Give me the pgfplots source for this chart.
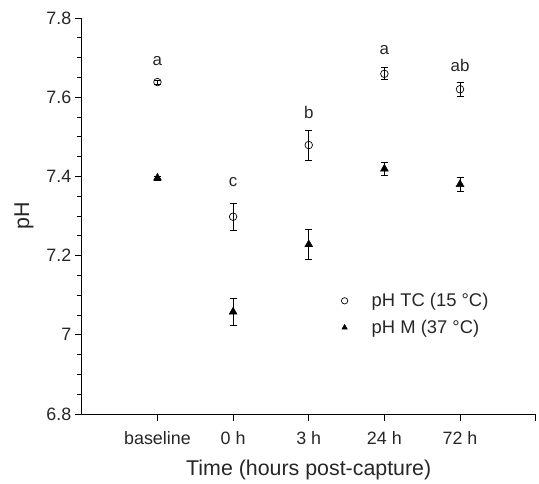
\documentclass[border=0pt]{standalone}
\usepackage{fontspec}
\setmainfont{Liberation Sans}
\usepackage{pgfplots}
\usepackage{pgfplotstable}
\pgfplotsset{compat=1.18}
\pgfplotstableread{
x y e
1 7.638 0.005
2 7.298 0.034
3 7.479 0.038
4 7.659 0.015
5 7.620 0.017
}\tc
\pgfplotstableread{
x y e
1 7.396 0.005
2 7.058 0.033
3 7.228 0.038
4 7.419 0.016
5 7.380 0.018
}\mm
\begin{document}
\begin{tikzpicture}[x=1bp,y=1bp]
\path (-82,-67) rectangle (457,415);
\begin{axis}[at={(0,0)}, anchor=south west, scale only axis,
  width=455bp, height=397bp,
  xmin=0, xmax=6, ymin=6.8, ymax=7.8,
  axis x line*=bottom, axis y line*=left,
  axis line style={line width=0.6pt},
  xtick={1,2,3,4,5,6}, xticklabels={baseline,0 h,3 h,24 h,72 h,},
  ytick={6.8,7,7.2,7.4,7.6,7.8}, minor y tick num=3,
  tick align=outside, major tick length=7bp, minor tick length=5bp,
  every tick/.style={black, line width=0.6pt},
  /pgf/number format/assume math mode=true,
  tick label style={font=\fontsize{18}{20}\selectfont, text=black!85},
  xticklabel style={yshift=-7bp},
  label style={font=\fontsize{21.5}{24}\selectfont, text=black!85},
  xlabel style={yshift=-9bp},
  ylabel style={yshift=6bp},
  xlabel={Time (hours post-capture)},
  ylabel={pH},
  legend style={at={(axis description cs:0.565,0.315)}, anchor=north west, draw=none, fill=none,
    font=\fontsize{18.5}{21}\selectfont, text=black!85, row sep=8bp, column sep=22bp},
  legend image post style={mark size=3.2bp},
  legend cell align=left,
  clip=false,
]
\addplot[only marks, mark=o, mark size=3.8bp, mark options={fill=white, line width=0.7pt},
  error bars/.cd, y dir=both, y explicit,
  error bar style={line width=0.7pt, black},
  error mark options={rotate=90, mark size=3.5bp, line width=0.7pt, black}]
  table[x=x, y=y, y error=e]{\tc};
\addlegendentry{pH TC (15 °C)}
\addplot[only marks, mark=triangle*, mark size=4.6bp, mark options={fill=black, line width=0.4pt},
  error bars/.cd, y dir=both, y explicit,
  error bar style={line width=0.7pt, black},
  error mark options={rotate=90, mark size=3.5bp, line width=0.7pt, black}]
  table[x=x, y=y, y error=e]{\mm};
\addlegendentry{pH M (37 °C)}
\node[font=\fontsize{17}{19}\selectfont, text=black!85] at (axis cs:1,7.69) {a};
\node[font=\fontsize{17}{19}\selectfont, text=black!85] at (axis cs:2,7.385) {c};
\node[font=\fontsize{17}{19}\selectfont, text=black!85] at (axis cs:3,7.561) {b};
\node[font=\fontsize{17}{19}\selectfont, text=black!85] at (axis cs:4,7.718) {a};
\node[font=\fontsize{17}{19}\selectfont, text=black!85] at (axis cs:5,7.681) {ab};
\end{axis}
\end{tikzpicture}
\end{document}
